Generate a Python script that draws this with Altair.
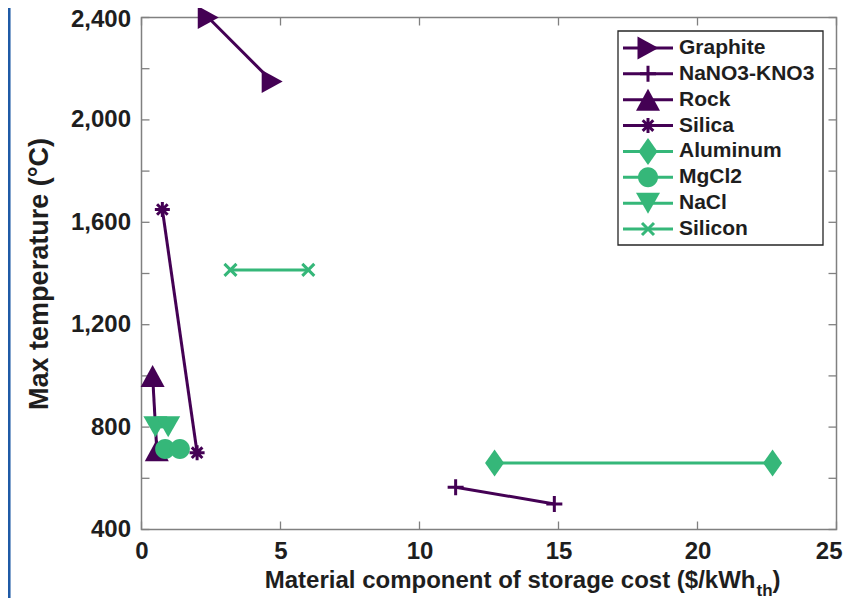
import altair as alt
import pandas as pd

# ---- data ----
materials = ["Graphite", "NaNO3-KNO3", "Rock", "Silica", "Aluminum", "MgCl2", "NaCl", "Silicon"]
mat_colors = ["#440154", "#440154", "#440154", "#440154", "#35b779", "#35b779", "#35b779", "#35b779"]
cost_a = [2.4, 11.3, 0.4, 0.75, 12.7, 0.85, 0.5, 3.2]
temp_a = [2400, 565, 1000, 1650, 660, 714, 801, 1414]
cost_b = [4.7, 14.85, 0.55, 2.0, 22.7, 1.38, 0.96, 6.0]
temp_b = [2150, 500, 710, 700, 660, 714, 801, 1414]

x_ticks = [0, 5, 10, 15, 20, 25]
y_labels = [400, 800, 1200, 1600, 2000, 2400]
y_ticks = [400, 600, 800, 1000, 1200, 1400, 1600, 1800, 2000, 2200, 2400]

# marker shapes (custom SVG symbol paths)
shape_paths = [
    "M-1.05,-1.15L1.05,0L-1.05,1.15Z",                       # triangle right
    "M-0.8,0L0.8,0M0,-0.8L0,0.8",                            # plus
    "M0,-1.1L1.2,1.1L-1.2,1.1Z",                             # triangle up
    "M-0.75,0L0.75,0M0,-0.75L0,0.75M-0.53,-0.53L0.53,0.53M-0.53,0.53L0.53,-0.53",  # asterisk
    "M0,-1.35L0.95,0L0,1.35L-0.95,0Z",                       # diamond
    "M-1,0A1,1,0,1,0,1,0A1,1,0,1,0,-1,0Z",                   # circle
    "M-1.2,-1.05L1.2,-1.05L0,1.05Z",                         # triangle down
    "M-0.6,-0.6L0.6,0.6M-0.6,0.6L0.6,-0.6",                  # x
]
filled_mats = ["Graphite", "Rock", "Aluminum", "MgCl2", "NaCl"]
stroked_mats = ["NaNO3-KNO3", "Silica", "Silicon"]

rows = []
for i, m in enumerate(materials):
    rows.append({"material": m, "pt": 0, "cost": cost_a[i], "temp": temp_a[i]})
    rows.append({"material": m, "pt": 1, "cost": cost_b[i], "temp": temp_b[i]})
df = pd.DataFrame(rows)

W, H = 695, 512
FONT = "Liberation Sans"
TXT = "#1e1e1e"
FRAME = "#808080"

xscale = alt.Scale(domain=[0, 25], nice=False, zero=False)
yscale = alt.Scale(domain=[400, 2400], nice=False, zero=False)
xaxis = alt.Axis(values=x_ticks, title=None, labelFontSize=24, labelPadding=10,
                 labelFont=FONT, labelFontWeight="bold", labelColor=TXT,
                 labelAlign=alt.ExprRef("datum.value == 25 ? 'right' : 'center'"),
                 labelOffset=alt.ExprRef("datum.value == 25 ? 5.5 : 0"),
                 domain=False, ticks=False, grid=False, labelFlush=False)
yaxis = alt.Axis(values=y_labels, format=",d", title="Max temperature (°C)",
                 labelFontSize=24, labelPadding=11, labelFont=FONT, labelFontWeight="bold",
                 labelColor=TXT, titleFont=FONT, titleFontSize=27, titleFontWeight="bold",
                 labelOffset=alt.ExprRef("datum.value == 2400 ? 2 : 0"),
                 titleColor=TXT, titlePadding=17, domain=False, ticks=False, grid=False,
                 labelFlush=False)

X = alt.X("cost:Q", scale=xscale, axis=xaxis)
Y = alt.Y("temp:Q", scale=yscale, axis=yaxis)
color = alt.Color("material:N", scale=alt.Scale(domain=materials, range=mat_colors), legend=None)
shape = alt.Shape("material:N", scale=alt.Scale(domain=materials, range=shape_paths), legend=None)

base = alt.Chart(df)
lines = base.mark_line(strokeWidth=3).encode(x=X, y=Y, color=color, detail="material:N",
                                              order="pt:Q")
pts_fill = base.transform_filter(
    alt.FieldOneOfPredicate(field="material", oneOf=filled_mats)
).mark_point(filled=True, opacity=1, size=400).encode(x=X, y=Y, color=color, shape=shape)
pts_stroke = base.transform_filter(
    alt.FieldOneOfPredicate(field="material", oneOf=stroked_mats)
).mark_point(filled=False, opacity=1, size=400, strokeWidth=3).encode(
    x=X, y=Y, color=color, shape=shape)

# inward ticks on all four sides
xt = pd.DataFrame({"cost": x_ticks})
yt = pd.DataFrame({"temp": y_ticks})
tick_len = 8
ticks_bottom = alt.Chart(xt).mark_rule(color=FRAME, strokeWidth=1.3).encode(
    x=X, y=alt.value(H), y2=alt.value(H - tick_len))
ticks_top = alt.Chart(xt).mark_rule(color=FRAME, strokeWidth=1.3).encode(
    x=X, y=alt.value(0), y2=alt.value(tick_len))
ticks_left = alt.Chart(yt).mark_rule(color=FRAME, strokeWidth=1.3).encode(
    y=Y, x=alt.value(0), x2=alt.value(tick_len))
ticks_right = alt.Chart(yt).mark_rule(color=FRAME, strokeWidth=1.3).encode(
    y=Y, x=alt.value(W), x2=alt.value(W - tick_len))

# x axis title with subscript
one = pd.DataFrame({"k": [0]})
xt_main = alt.Chart(one).mark_text(text="Material component of storage cost ($/kWh", align="right",
                                   baseline="alphabetic", font=FONT, fontSize=24,
                                   fontWeight="bold", color=TXT).encode(
    x=alt.value(614), y=alt.value(570))
xt_sub = alt.Chart(one).mark_text(text="th", align="left", baseline="alphabetic", font=FONT,
                                  fontSize=17, fontWeight="bold", color=TXT).encode(
    x=alt.value(615), y=alt.value(578))
xt_par = alt.Chart(one).mark_text(text=")", align="left", baseline="alphabetic", font=FONT,
                                  fontSize=24, fontWeight="bold", color=TXT).encode(
    x=alt.value(631), y=alt.value(570))

# page-edge blue bar
edge = alt.Chart(one).mark_rule(color="#1f5aa6", strokeWidth=2.7).encode(
    x=alt.value(-132.3), y=alt.value(-9.5), y2=alt.value(590))

main = alt.layer(edge, ticks_bottom, ticks_top, ticks_left, ticks_right, lines,
                 pts_fill, pts_stroke, xt_main, xt_sub, xt_par)

# legend drawn from the same lists
leg = pd.DataFrame({"material": materials, "row": list(range(len(materials)))})
LY = alt.Y("row:Q", scale=alt.Scale(domain=[0, 7], range=[30.5, 211.5]), axis=None)
leg_box = alt.Chart(one).mark_rect(fill="white", stroke="#262626", strokeWidth=1.3).encode(
    x=alt.value(476.5), x2=alt.value(681.5), y=alt.value(13.5), y2=alt.value(227.5))
leg_base = alt.Chart(leg)
leg_lines = leg_base.mark_rule(strokeWidth=3).encode(
    x=alt.value(481.5), x2=alt.value(531.5), y=LY, color=color)
leg_fill = leg_base.transform_filter(
    alt.FieldOneOfPredicate(field="material", oneOf=filled_mats)
).mark_point(filled=True, opacity=1, size=400).encode(
    x=alt.value(506.5), y=LY, color=color, shape=shape)
leg_stroke = leg_base.transform_filter(
    alt.FieldOneOfPredicate(field="material", oneOf=stroked_mats)
).mark_point(filled=False, opacity=1, size=400, strokeWidth=3).encode(
    x=alt.value(506.5), y=LY, color=color, shape=shape)
leg_text = leg_base.mark_text(align="left", baseline="middle", font=FONT, fontSize=21,
                              fontWeight="bold", color=TXT).encode(
    x=alt.value(537.5), y=LY, text="material:N")
legend = alt.layer(leg_box, leg_lines, leg_fill, leg_stroke, leg_text)

chart = alt.layer(main, legend).resolve_scale(y="independent").properties(
    width=W, height=H,
    padding={"left": 133.5, "top": 9.5, "right": 6, "bottom": 68.5},
    autosize=alt.AutoSizeParams(type="none"),
).configure_view(stroke=FRAME, strokeWidth=1.5)

chart.save("out.html", embed_options={"renderer": "svg", "actions": False})
